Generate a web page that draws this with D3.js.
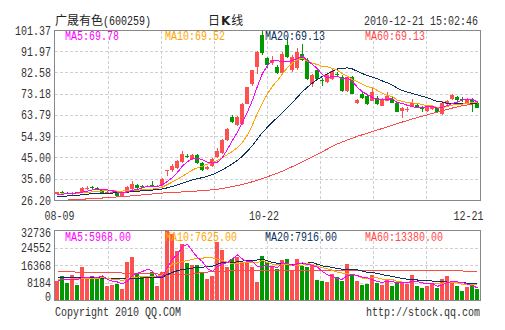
<!DOCTYPE html>
<html><head><meta charset="utf-8">
<script src="https://cdn.jsdelivr.net/npm/d3@7"></script>
<style>html,body{margin:0;padding:0;background:#fff;}svg{display:block;}</style>
</head><body><svg id="c" width="505" height="330"></svg>
<script>
// ---------------- data ----------------
const stockName = "广晟有色";
const stockCode = "(600259)";
const chartTitle = ["日", "K", "线"];
const timestamp = "2010-12-21 15:02:46";
const dateLabels = ["08-09", "10-22", "12-21"];
const dateLabelIdx = [0, 42, 84];
const priceTicks = ["26.20", "35.60", "45.00", "54.39", "63.79", "73.18", "82.58", "91.97", "101.37"];
const volTicks = ["0", "8184", "16368", "24552", "32736"];
const maNames = ["MA5", "MA10", "MA20", "MA60"];
const priceMaLast = ["69.78", "69.52", "69.13", "69.13"];
const volMaLast = ["5968.00", "7625.00", "7916.00", "13380.00"];
const copyright = "Copyright 2010 QQ.COM";
const siteUrl = "http://stock.qq.com";

const open = [29.1,29.9,29.6,29.0,29.8,29.5,31.3,32.2,31.9,31.1,29.5,29.7,29.5,28.2,30.0,31.3,33.0,32.6,32.3,33.0,32.4,33.0,39.3,39.6,40.5,43.3,46.0,44.6,46.2,42.6,40.1,41.5,45.5,47.0,53.0,63.2,59.4,60.1,69.0,77.8,85.3,99.2,89.0,86.8,85.3,82.4,94.9,84.0,84.6,91.0,88.2,77.9,83.8,79.4,78.7,79.9,82.1,80.9,74.7,80.9,69.5,73.2,72.5,70.3,71.7,68.0,70.3,71.0,69.5,65.8,66.3,68.0,68.5,67.0,65.8,66.8,66.9,64.3,68.8,71.0,72.0,71.0,68.8,71.0,69.5];
const high = [30.1,30.3,30.0,30.1,30.1,32.2,32.6,32.7,32.3,31.5,30.3,30.4,30.0,30.2,32.4,35.0,33.4,33.2,33.0,35.0,33.2,36.2,39.5,42.5,44.0,48.0,46.8,46.6,46.6,43.2,41.3,44.8,49.5,53.2,58.3,63.8,63.4,69.3,76.6,84.0,92.2,101.37,89.5,90.0,86.0,92.0,98.5,90.5,93.5,95.6,89.0,82.0,84.2,80.2,82.5,84.2,82.8,81.5,81.0,81.2,71.0,74.0,73.0,76.2,72.2,71.5,74.0,71.8,69.8,67.6,67.5,71.0,69.0,67.8,68.5,68.2,67.3,70.0,70.8,73.5,72.4,71.8,71.6,71.5,70.0];
const low = [28.9,29.2,28.9,28.8,29.2,29.3,30.9,31.4,31.1,29.3,29.2,29.4,28.0,27.9,29.8,31.0,31.5,32.0,32.0,32.1,32.1,32.8,37.1,39.0,40.0,43.0,45.2,44.3,42.4,39.4,39.8,41.2,45.2,46.8,52.7,60.5,59.0,59.8,68.7,77.0,82.0,90.5,84.8,86.0,82.0,82.0,89.0,83.0,84.0,87.8,79.5,76.5,79.6,76.8,78.0,79.5,80.9,74.3,74.3,73.2,69.0,71.3,68.5,70.0,68.5,67.8,70.0,69.2,65.2,62.5,65.2,67.6,67.0,65.5,65.5,66.0,65.0,64.0,68.5,70.6,70.3,69.8,68.5,65.4,67.0];
const close = [29.8,29.6,29.3,29.7,29.5,31.6,31.8,31.8,31.4,29.6,29.9,30.0,28.4,29.9,32.1,33.3,31.8,32.3,32.6,32.4,32.8,35.9,39.5,41.5,43.6,46.7,45.8,46.2,42.6,39.7,41.0,44.5,48.0,52.9,58.0,60.7,63.0,69.0,76.3,83.7,91.9,91.2,86.0,88.2,82.4,91.0,89.7,89.7,92.0,88.4,80.1,81.6,80.1,78.9,81.6,83.6,81.6,74.7,80.6,73.5,70.6,71.7,68.8,74.0,68.8,71.0,72.5,69.5,65.4,67.3,66.6,69.5,67.3,66.6,68.0,67.5,65.5,69.5,70.3,72.8,70.6,70.5,71.0,69.5,67.3];
const volume = [9260,11460,8330,11930,7250,15670,10850,9920,9920,11460,6920,7250,7720,5380,18150,20340,12530,11460,10850,13470,6780,13470,32736,31000,23300,26430,17680,16600,16600,13470,9920,11460,27500,23620,15810,19270,20490,17680,17680,15530,8790,20810,18150,15530,14590,18940,19410,13800,19410,16280,15530,17070,9590,9260,8650,12250,10850,9000,17070,11930,9170,7190,7690,12150,8180,7190,10170,6840,8520,8830,7690,12150,6840,5700,6840,8180,5700,10170,11300,9320,6840,4370,6350,7190,5210];

const ma5 = [28.8,29.0,29.2,29.4,29.58,29.94,30.38,30.88,31.22,31.24,30.9,30.54,29.86,29.56,30.06,30.74,31.1,31.88,32.42,32.48,32.38,33.2,34.64,36.42,38.66,41.44,43.42,44.76,44.98,44.2,43.06,42.8,43.16,45.22,48.88,52.82,56.52,60.72,65.4,70.54,76.78,82.42,85.82,88.2,87.94,87.76,87.46,88.2,88.96,90.16,87.98,86.36,84.44,81.82,80.46,81.16,81.16,80.08,80.42,78.8,76.2,74.22,73.04,71.72,70.78,70.86,71.02,71.16,69.44,69.14,68.26,67.66,67.22,67.46,67.6,67.78,66.98,67.42,68.16,69.12,69.74,70.74,71.04,70.88,69.78];
const ma10 = [29.0,29.1,29.2,29.3,29.4,29.6,29.8,30.0,30.2,30.41,30.42,30.46,30.37,30.39,30.65,30.82,30.82,30.87,30.99,31.27,31.56,32.15,33.26,34.42,35.57,36.91,38.31,39.7,40.7,41.43,42.25,43.11,43.96,45.1,46.54,47.94,49.66,51.94,55.31,59.71,64.8,69.47,73.27,76.8,79.24,82.27,84.94,87.01,88.58,89.05,87.87,86.91,86.32,85.39,85.31,84.57,83.76,82.26,81.12,79.63,78.68,77.69,76.56,76.07,74.79,73.53,72.62,72.1,70.58,69.96,69.56,69.34,69.19,68.45,68.37,68.02,67.32,67.32,67.81,68.36,68.76,68.86,69.23,69.4,69.52];
const ma20 = [28.0,28.1,28.2,28.3,28.5,28.8,29.0,29.2,29.3,29.4,29.5,29.5,29.6,29.7,29.9,30.1,30.3,30.5,30.7,30.84,30.99,31.31,31.82,32.41,33.11,33.87,34.57,35.29,35.85,36.35,36.91,37.63,38.61,39.76,41.06,42.43,43.99,45.82,48.0,50.57,53.53,56.29,58.62,60.95,62.89,65.1,67.3,69.48,71.95,74.38,76.34,78.19,79.8,81.1,82.28,83.42,84.35,84.64,84.85,84.34,83.28,82.3,81.44,80.73,80.05,79.05,78.19,77.18,75.85,74.8,74.12,73.52,72.88,72.26,71.58,70.78,69.97,69.71,69.2,69.16,69.16,69.1,69.21,68.99,69.13];
const ma60 = [26.2,26.3,26.4,26.5,26.6,26.8,26.9,27.0,27.2,27.3,27.5,27.6,27.8,27.9,28.1,28.3,28.5,28.7,28.9,29.1,29.3,29.5,29.6,29.7,29.8,30.0,30.1,30.2,30.4,30.5,30.7,31.0,31.2,31.5,31.9,32.4,32.8,33.3,33.9,34.5,35.2,35.9,36.7,37.5,38.3,39.2,40.2,41.2,42.2,43.3,44.4,45.5,46.6,47.8,49.0,50.2,51.2,52.1,53.0,53.8,54.6,55.3,56.0,56.7,57.4,58.1,58.8,59.5,60.2,60.9,61.6,62.3,62.9,63.5,64.1,64.7,65.3,65.9,66.5,67.1,67.6,68.1,68.5,68.9,69.13];

const vma5 = [9500,9700,9600,9700,9646,10928,10806,11124,10722,11564,9814,9094,8654,7746,9084,11768,12824,13572,14666,13730,11018,11206,15461,19491,21457,25387,26229,23002,20122,18156,14854,13610,15790,17194,17662,19532,21338,19374,18186,18130,16034,16098,16192,15762,15574,17604,17324,16454,17230,17568,16886,16418,15576,13546,12020,11364,10120,10002,11564,12220,11604,10872,10610,9626,8876,8480,9076,8906,8180,8310,8410,8806,8806,8242,7844,7942,6652,7318,8438,8934,8666,8400,7636,6814,5968];
const vma10 = [9900,10000,10000,10100,10100,10300,10400,10400,10400,10605,10371,9950,9889,9234,10324,10791,10959,11113,11206,11407,11393,12015,14517,17079,17594,18203,18718,19232,19807,19807,20121,19920,19396,18658,17909,17193,17474,17582,17690,17896,17783,18718,17783,16974,16852,16819,16711,16323,16496,16571,17245,16871,16015,15388,14794,14125,13269,12789,12555,12120,11484,10496,10306,10595,10548,10042,9974,9758,8903,8593,8445,8941,8856,8211,8077,8176,7729,8062,8340,8389,8304,7526,7477,7626,7625];
const vma20 = [10900,10900,10850,10800,10800,10850,10800,10700,10600,10500,10300,10200,10150,10100,10200,10300,10400,10500,10700,11006,10882,10983,12203,13156,13959,14497,14838,15172,15506,15607,15757,15967,16956,17868,17751,17698,18096,18407,18748,18851,18952,19319,18590,17816,17381,17006,17093,16953,17093,17234,17514,17795,16899,16181,15823,15472,14990,14556,14526,14346,14365,13684,13161,12992,12671,12084,11622,11274,10729,10357,9965,9719,9581,9403,9313,9109,8852,8910,8622,8491,8375,8234,8167,7919,7916];
const vma60 = [13400,13400,13350,13350,13300,13300,13300,13250,13250,13200,13000,12950,12900,12850,12800,12750,12700,12650,12600,12500,12400,12200,12200,12150,12150,12100,12100,12200,12800,13100,13300,13500,13600,13700,13800,13850,13900,14000,14050,14100,14100,14150,14150,14200,14200,14200,14200,14250,14250,14250,14250,14250,14250,14250,14250,14250,14250,14250,14250,14250,14200,14200,14200,14200,14200,14200,14200,14200,14200,14200,14200,14200,14150,14150,14150,14150,14100,14000,13950,13900,13850,13800,13600,13450,13380];

// ---------------- styles ----------------
const UP = "#ff5050", DOWN = "#009900";
const maColors = ["#ff00ff", "#ffa500", "#0b3160", "#ff4a4a"];
const TXT = "#333";
const GRID = "#d0d0d0";
const BORDER = "#888";
const MONO = '"Liberation Mono","DejaVu Sans Mono",monospace';
const CJK = '"Noto Sans CJK SC","Noto Sans CJK JP",sans-serif';

const svg = d3.select("#c").attr("shape-rendering", "crispEdges");
svg.append("rect").attr("width", 505).attr("height", 330).attr("fill", "#fff");

const L = 55, R = 480;
const mainTop = 30.5, mainBot = 200.5, volTop = 230.5, volBot = 300.5;
const n = close.length;
const x = d3.scaleBand().domain(d3.range(n)).range([L, R]).paddingInner(0.2).paddingOuter(0.1).align(0);
const bw = x.bandwidth();
const cx = i => x(i) + bw / 2 + 0.5;
const y = d3.scaleLinear().domain([+priceTicks[0], +priceTicks[priceTicks.length - 1]]).range([mainBot, mainTop]);
const yv = d3.scaleLinear().domain([0, +volTicks[volTicks.length - 1]]).range([volBot, volTop]);
const xl = d3.scaleLinear().domain([0, n - 1]).range([59.5, 468.5]);
const snap = v => Math.round(v - 0.5) + 0.5;

function mono(g, str, x0, yb, color, anchor) {
  const w = str.length * 6;
  const xs = anchor === "end" ? x0 - w : anchor === "middle" ? x0 - w / 2 : x0;
  return g.append("text").attr("x", xs).attr("y", yb)
    .attr("textLength", w).attr("lengthAdjust", "spacingAndGlyphs")
    .attr("font-family", MONO).attr("font-size", 12).attr("fill", color).text(str);
}

// ---------------- grid ----------------
const grid = svg.append("g").attr("stroke", GRID).attr("stroke-width", 1).attr("stroke-dasharray", "3,2");
const vxs = d3.range(1, 8).map(k => snap(L + k * (R - L) / 8));
[[mainTop, mainBot], [volTop, volBot]].forEach(([t, b]) => {
  vxs.forEach(v => grid.append("line").attr("x1", v).attr("x2", v).attr("y1", t).attr("y2", b));
});
priceTicks.slice(1, -1).forEach(t => {
  const yy = snap(y(+t));
  grid.append("line").attr("x1", L).attr("x2", R).attr("y1", yy).attr("y2", yy);
});
volTicks.slice(1, -1).forEach(t => {
  const yy = snap(yv(+t));
  grid.append("line").attr("x1", L).attr("x2", R).attr("y1", yy).attr("y2", yy);
});

// ---------------- candles ----------------
const cg = svg.append("g");
d3.range(n).forEach(i => {
  const col = close[i] >= open[i] ? UP : DOWN;
  cg.append("line").attr("x1", cx(i)).attr("x2", cx(i))
    .attr("y1", y(high[i])).attr("y2", y(low[i])).attr("stroke", col).attr("stroke-width", 1);
  const y0 = y(Math.max(open[i], close[i])), y1 = y(Math.min(open[i], close[i]));
  cg.append("rect").attr("x", x(i)).attr("width", bw)
    .attr("y", y0).attr("height", Math.max(1, y1 - y0)).attr("fill", col);
});

// ---------------- volume bars ----------------
const vg = svg.append("g");
d3.range(n).forEach(i => {
  const col = close[i] >= open[i] ? UP : DOWN;
  vg.append("rect").attr("x", x(i)).attr("width", bw)
    .attr("y", yv(volume[i])).attr("height", yv(0) - yv(volume[i])).attr("fill", col);
});

// ---------------- MA lines ----------------
const lineP = d3.line().x((d, i) => cx(i)).y(d => y(d));
const lineV = d3.line().x((d, i) => cx(i)).y(d => yv(d));
[ma60, ma20, ma10, ma5].forEach((s, k) => {
  svg.append("path").attr("d", lineP(s)).attr("fill", "none")
    .attr("stroke", maColors[3 - k]).attr("stroke-width", 1);
});
[vma60, vma20, vma10, vma5].forEach((s, k) => {
  svg.append("path").attr("d", lineV(s)).attr("fill", "none")
    .attr("stroke", maColors[3 - k]).attr("stroke-width", 1);
});

// ---------------- borders ----------------
[[mainTop, mainBot], [volTop, volBot]].forEach(([t, b]) => {
  svg.append("rect").attr("x", L - 0.5).attr("y", t).attr("width", R - L + 1).attr("height", b - t)
    .attr("fill", "none").attr("stroke", BORDER).attr("stroke-width", 1);
});

// ---------------- texts ----------------
const tg = svg.append("g").attr("shape-rendering", "auto");
tg.append("text").attr("x", 55).attr("y", 25).attr("font-family", CJK).attr("font-size", 12)
  .attr("fill", "#222").text(stockName);
mono(tg, stockCode, 55 + stockName.length * 12, 25, "#222");
const tt = tg.append("text").attr("x", 208).attr("y", 25).attr("font-family", CJK).attr("font-size", 12).attr("fill", "#222");
tt.append("tspan").text(chartTitle[0]);
tt.append("tspan").attr("font-weight", "bold").attr("font-family", '"DejaVu Sans",sans-serif').attr("dx", 1).text(chartTitle[1]);
tt.append("tspan").attr("dx", 1).text(chartTitle[2]);
mono(tg, timestamp, 478, 25, TXT, "end");

priceTicks.forEach(t => mono(tg, t, 51, y(+t) + 4, TXT, "end"));
volTicks.forEach(t => mono(tg, t, 51, Math.min(volBot, Math.max(volTop + 6, yv(+t) + 4)), TXT, "end"));
dateLabels.forEach((t, k) => mono(tg, t, xl(dateLabelIdx[k]), 220, TXT, "middle"));

maNames.forEach((nm, k) => {
  mono(tg, nm + ":" + priceMaLast[k], 65 + k * 100, 40, maColors[k]);
  mono(tg, nm + ":" + volMaLast[k], 65 + k * 100, 240.5, maColors[k]);
});
mono(tg, copyright, 55, 316, TXT);
mono(tg, siteUrl, 480, 316, TXT, "end");
</script></body></html>
